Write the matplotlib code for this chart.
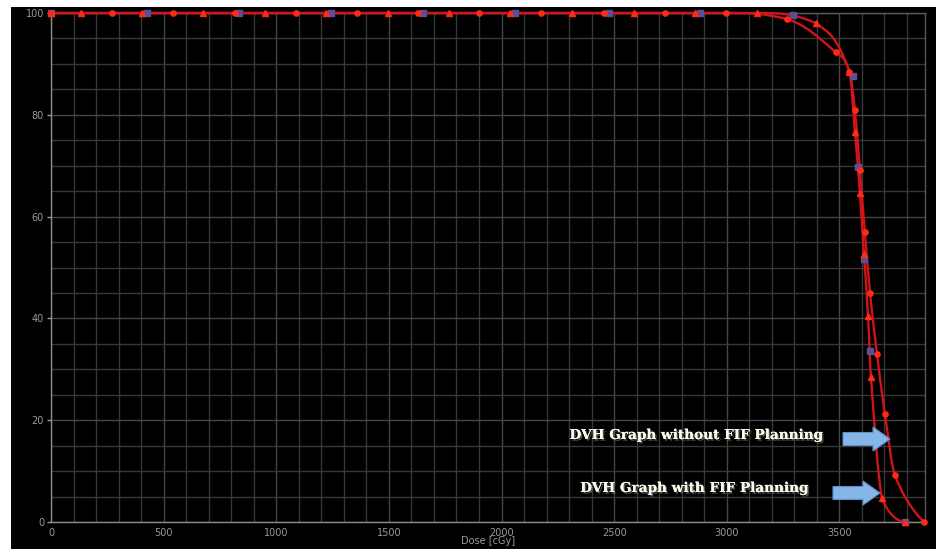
import matplotlib
matplotlib.use("Agg")
import matplotlib.pyplot as plt
import numpy as np
from matplotlib.path import Path
from matplotlib.patches import PathPatch, Rectangle, FancyArrow
import matplotlib.patheffects as pe

# ---- data ----
nofif_x = [0, 272, 543, 815, 1087, 1358, 1630, 1902, 2174, 2453, 2724, 2996,
           3267, 3484, 3544, 3569, 3591, 3613, 3636, 3667, 3702, 3747, 3876]
nofif_y = [100, 100, 100, 100, 100, 100, 100, 100, 100, 100, 100, 100,
           98.8, 92.3, 88.5, 80.9, 69.2, 57.0, 45.0, 33.0, 21.2, 9.2, 0]

fif_x = [0, 133, 403, 676, 951, 1222, 1494, 1766, 2038, 2315, 2587, 2858, 3133,
         3396, 3544, 3569, 3591, 3609, 3627, 3640, 3689, 3790]
fif_y = [100, 100, 100, 100, 100, 100, 100, 100, 100, 100, 100, 100, 100,
         98.0, 88.5, 76.6, 64.6, 52.7, 40.5, 28.5, 4.7, 0]

ref_x = [0, 425, 833, 1245, 1653, 2062, 2476, 2880, 3293, 3560, 3582, 3609, 3636, 3791]
ref_y = [100, 100, 100, 100, 100, 100, 100, 100, 99.6, 87.6, 69.7, 51.6, 33.6, 0]

x_ticks = [0, 500, 1000, 1500, 2000, 2500, 3000, 3500]
y_ticks = [0, 20, 40, 60, 80, 100]
x_label = "Dose [cGy]"
label_without = "DVH Graph without FIF Planning"
label_with = "DVH Graph with FIF Planning"


def spline_path(xs, ys, smoothing=1.5):
    """Highcharts-style spline as cubic Bezier path through the data points."""
    n = len(xs)
    denom = smoothing + 1
    lc = [None] * n
    rc = [None] * n
    for i in range(n):
        x, y = xs[i], ys[i]
        if 0 < i < n - 1:
            lx, ly = xs[i - 1], ys[i - 1]
            nx, ny = xs[i + 1], ys[i + 1]
            lcx = (smoothing * x + lx) / denom
            lcy = (smoothing * y + ly) / denom
            rcx = (smoothing * x + nx) / denom
            rcy = (smoothing * y + ny) / denom
            corr = 0
            if rcx != lcx:
                corr = (rcy - lcy) * (rcx - x) / (rcx - lcx) + y - rcy
            lcy += corr
            rcy += corr
            if lcy > ly and lcy > y:
                lcy = max(ly, y); rcy = 2 * y - lcy
            elif lcy < ly and lcy < y:
                lcy = min(ly, y); rcy = 2 * y - lcy
            if rcy > ny and rcy > y:
                rcy = max(ny, y); lcy = 2 * y - rcy
            elif rcy < ny and rcy < y:
                rcy = min(ny, y); lcy = 2 * y - rcy
            lc[i] = (lcx, lcy)
            rc[i] = (rcx, rcy)
        else:
            lc[i] = (x, y)
            rc[i] = (x, y)
    verts = [(xs[0], ys[0])]
    codes = [Path.MOVETO]
    for i in range(1, n):
        verts += [rc[i - 1], lc[i], (xs[i], ys[i])]
        codes += [Path.CURVE4] * 3
    return Path(verts, codes)


fig = plt.figure(figsize=(9.36, 5.49), dpi=100, facecolor="white")
W, H = 936, 549
fig.patches.append(Rectangle((11 / W, 0), 1 - 11 / W, (H - 7) / H,
                             transform=fig.transFigure, facecolor="black",
                             edgecolor="none", zorder=-10))

ax = fig.add_axes([51 / W, (H - 522) / H, (925 - 51) / W, (522 - 13) / H])
ax.set_facecolor("black")
ax.set_xlim(0, 3880)
ax.set_ylim(0, 100)

ax.set_xticks(x_ticks)
ax.set_yticks(y_ticks)
ax.set_xticks(np.arange(0, 3881, 100), minor=True)
ax.set_yticks(np.arange(0, 101, 5), minor=True)
ax.grid(which="minor", color="#383838", linewidth=1.0)
ax.grid(which="major", color="#454545", linewidth=1.0)
ax.set_axisbelow(True)
for s in ax.spines.values():
    s.set_color("#5a5a5a")
    s.set_linewidth(1.0)
ax.spines["left"].set_color("#8a8a8a")
ax.spines["bottom"].set_color("#8a8a8a")
ax.tick_params(which="major", colors="#9a9a9a", labelsize=7, length=3,
               width=1, pad=2)
ax.tick_params(which="minor", length=0)
ax.tick_params(axis="x", which="major", length=0, pad=4)
ax.set_xlabel(x_label, color="#9a9a9a", fontsize=7, labelpad=-1)

line_col = "#d0141a"
mark_col = "#ff2a18"

for xs, ys in [(nofif_x, nofif_y), (fif_x, fif_y)]:
    p = spline_path(xs, ys)
    ax.add_patch(PathPatch(p, facecolor="none", edgecolor=line_col,
                           linewidth=1.7, zorder=3, clip_on=False))

ax.plot(ref_x, ref_y, linestyle="none", marker="s", markersize=4.5,
        markerfacecolor="#5a4e98", markeredgecolor="#5a4e98", zorder=4,
        clip_on=False)
ax.plot(nofif_x, nofif_y, linestyle="none", marker="o", markersize=3.8,
        markerfacecolor=mark_col, markeredgecolor=mark_col, zorder=5,
        clip_on=False)
ax.plot(fif_x, fif_y, linestyle="none", marker="^", markersize=4.2,
        markerfacecolor=mark_col, markeredgecolor=mark_col, zorder=5,
        clip_on=False)

# annotations
effects = [pe.withSimplePatchShadow(offset=(1.2, -1.2), shadow_rgbFace="#555555",
                                    alpha=0.9), pe.Normal()]
fig.text(697 / W, 1 - 435 / H, label_without, color="#fffbea",
         fontsize=9.8, fontweight="bold", family="DejaVu Serif",
         ha="center", va="center", path_effects=effects)
fig.text(695 / W, 1 - 488 / H, label_with, color="#fffbea",
         fontsize=9.8, fontweight="bold", family="DejaVu Serif",
         ha="center", va="center", path_effects=effects)

for (x0, x1, yc) in [(843, 890, 439), (833, 880, 493)]:
    arr = FancyArrow(x0 / W, 1 - yc / H, (x1 - x0) / W, 0,
                     width=13 / H, head_width=24 / H, head_length=17 / W,
                     length_includes_head=True, transform=fig.transFigure,
                     facecolor="#86b6e8", edgecolor="#5f8fc8", linewidth=0.8,
                     zorder=6)
    fig.patches.append(arr)

fig.savefig("out.png", dpi=100, facecolor="white")
